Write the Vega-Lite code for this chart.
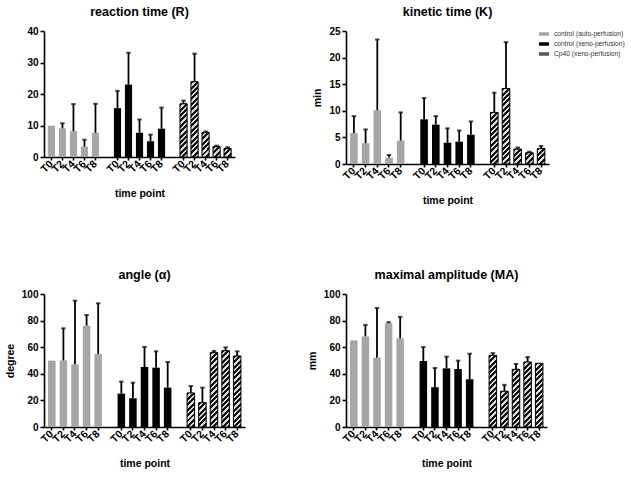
{
 "$schema": "https://vega.github.io/schema/vega-lite/v6.json",
 "padding": {"left": 5, "top": 5, "right": 5, "bottom": 5},
 "params": [{"name": "stripes", "value": [
  {"offset": 0, "color": "#111"}, {"offset": 0.034375, "color": "#111"}, {"offset": 0.034375, "color": "#dcdcdc"}, {"offset": 0.0625, "color": "#dcdcdc"},
  {"offset": 0.0625, "color": "#111"}, {"offset": 0.096875, "color": "#111"}, {"offset": 0.096875, "color": "#dcdcdc"}, {"offset": 0.125, "color": "#dcdcdc"},
  {"offset": 0.125, "color": "#111"}, {"offset": 0.159375, "color": "#111"}, {"offset": 0.159375, "color": "#dcdcdc"}, {"offset": 0.1875, "color": "#dcdcdc"},
  {"offset": 0.1875, "color": "#111"}, {"offset": 0.221875, "color": "#111"}, {"offset": 0.221875, "color": "#dcdcdc"}, {"offset": 0.25, "color": "#dcdcdc"},
  {"offset": 0.25, "color": "#111"}, {"offset": 0.284375, "color": "#111"}, {"offset": 0.284375, "color": "#dcdcdc"}, {"offset": 0.3125, "color": "#dcdcdc"},
  {"offset": 0.3125, "color": "#111"}, {"offset": 0.346875, "color": "#111"}, {"offset": 0.346875, "color": "#dcdcdc"}, {"offset": 0.375, "color": "#dcdcdc"},
  {"offset": 0.375, "color": "#111"}, {"offset": 0.409375, "color": "#111"}, {"offset": 0.409375, "color": "#dcdcdc"}, {"offset": 0.4375, "color": "#dcdcdc"},
  {"offset": 0.4375, "color": "#111"}, {"offset": 0.471875, "color": "#111"}, {"offset": 0.471875, "color": "#dcdcdc"}, {"offset": 0.5, "color": "#dcdcdc"},
  {"offset": 0.5, "color": "#111"}, {"offset": 0.534375, "color": "#111"}, {"offset": 0.534375, "color": "#dcdcdc"}, {"offset": 0.5625, "color": "#dcdcdc"},
  {"offset": 0.5625, "color": "#111"}, {"offset": 0.596875, "color": "#111"}, {"offset": 0.596875, "color": "#dcdcdc"}, {"offset": 0.625, "color": "#dcdcdc"},
  {"offset": 0.625, "color": "#111"}, {"offset": 0.659375, "color": "#111"}, {"offset": 0.659375, "color": "#dcdcdc"}, {"offset": 0.6875, "color": "#dcdcdc"},
  {"offset": 0.6875, "color": "#111"}, {"offset": 0.721875, "color": "#111"}, {"offset": 0.721875, "color": "#dcdcdc"}, {"offset": 0.75, "color": "#dcdcdc"},
  {"offset": 0.75, "color": "#111"}, {"offset": 0.784375, "color": "#111"}, {"offset": 0.784375, "color": "#dcdcdc"}, {"offset": 0.8125, "color": "#dcdcdc"},
  {"offset": 0.8125, "color": "#111"}, {"offset": 0.846875, "color": "#111"}, {"offset": 0.846875, "color": "#dcdcdc"}, {"offset": 0.875, "color": "#dcdcdc"},
  {"offset": 0.875, "color": "#111"}, {"offset": 0.909375, "color": "#111"}, {"offset": 0.909375, "color": "#dcdcdc"}, {"offset": 0.9375, "color": "#dcdcdc"},
  {"offset": 0.9375, "color": "#111"}, {"offset": 0.971875, "color": "#111"}, {"offset": 0.971875, "color": "#dcdcdc"}, {"offset": 1, "color": "#dcdcdc"}
 ]},
 {"name": "lstripes", "value": [
  {"offset": 0, "color": "#111"}, {"offset": 0.2, "color": "#111"}, {"offset": 0.2, "color": "#eee"}, {"offset": 0.333, "color": "#eee"},
  {"offset": 0.333, "color": "#111"}, {"offset": 0.533, "color": "#111"}, {"offset": 0.533, "color": "#eee"}, {"offset": 0.667, "color": "#eee"},
  {"offset": 0.667, "color": "#111"}, {"offset": 0.867, "color": "#111"}, {"offset": 0.867, "color": "#eee"}, {"offset": 1, "color": "#eee"}
 ]}],
 "datasets": {"d": [
  {"p": "R", "g": "control (auto-perfusion)", "k": "aT0", "m": 9.9, "hi": null},
  {"p": "R", "g": "control (auto-perfusion)", "k": "aT2", "m": 9.1, "hi": 10.7},
  {"p": "R", "g": "control (auto-perfusion)", "k": "aT4", "m": 8.2, "hi": 16.8},
  {"p": "R", "g": "control (auto-perfusion)", "k": "aT6", "m": 3.3, "hi": 5.5},
  {"p": "R", "g": "control (auto-perfusion)", "k": "aT8", "m": 7.7, "hi": 16.9},
  {"p": "R", "g": "control (xeno-perfusion)", "k": "xT0", "m": 15.5, "hi": 21.0},
  {"p": "R", "g": "control (xeno-perfusion)", "k": "xT2", "m": 23.0, "hi": 33.1},
  {"p": "R", "g": "control (xeno-perfusion)", "k": "xT4", "m": 7.7, "hi": 11.9},
  {"p": "R", "g": "control (xeno-perfusion)", "k": "xT6", "m": 5.0, "hi": 7.1},
  {"p": "R", "g": "control (xeno-perfusion)", "k": "xT8", "m": 9.0, "hi": 15.7},
  {"p": "R", "g": "Cp40 (xeno-perfusion)", "k": "cT0", "m": 16.9, "hi": 17.9},
  {"p": "R", "g": "Cp40 (xeno-perfusion)", "k": "cT2", "m": 23.9, "hi": 32.8},
  {"p": "R", "g": "Cp40 (xeno-perfusion)", "k": "cT4", "m": 7.8, "hi": 8.1},
  {"p": "R", "g": "Cp40 (xeno-perfusion)", "k": "cT6", "m": 3.3, "hi": 3.6},
  {"p": "R", "g": "Cp40 (xeno-perfusion)", "k": "cT8", "m": 2.7, "hi": 3.1},
  {"p": "K", "g": "control (auto-perfusion)", "k": "aT0", "m": 5.8, "hi": 9.0},
  {"p": "K", "g": "control (auto-perfusion)", "k": "aT2", "m": 3.9, "hi": 6.5},
  {"p": "K", "g": "control (auto-perfusion)", "k": "aT4", "m": 10.1, "hi": 23.4},
  {"p": "K", "g": "control (auto-perfusion)", "k": "aT6", "m": 1.2, "hi": 1.7},
  {"p": "K", "g": "control (auto-perfusion)", "k": "aT8", "m": 4.4, "hi": 9.7},
  {"p": "K", "g": "control (xeno-perfusion)", "k": "xT0", "m": 8.4, "hi": 12.4},
  {"p": "K", "g": "control (xeno-perfusion)", "k": "xT2", "m": 7.4, "hi": 9.0},
  {"p": "K", "g": "control (xeno-perfusion)", "k": "xT4", "m": 4.0, "hi": 6.7},
  {"p": "K", "g": "control (xeno-perfusion)", "k": "xT6", "m": 4.2, "hi": 6.3},
  {"p": "K", "g": "control (xeno-perfusion)", "k": "xT8", "m": 5.5, "hi": 8.0},
  {"p": "K", "g": "Cp40 (xeno-perfusion)", "k": "cT0", "m": 9.7, "hi": 13.4},
  {"p": "K", "g": "Cp40 (xeno-perfusion)", "k": "cT2", "m": 14.2, "hi": 22.9},
  {"p": "K", "g": "Cp40 (xeno-perfusion)", "k": "cT4", "m": 2.8, "hi": 3.1},
  {"p": "K", "g": "Cp40 (xeno-perfusion)", "k": "cT6", "m": 2.1, "hi": 2.3},
  {"p": "K", "g": "Cp40 (xeno-perfusion)", "k": "cT8", "m": 2.9, "hi": 3.4},
  {"p": "A", "g": "control (auto-perfusion)", "k": "aT0", "m": 49.9, "hi": null},
  {"p": "A", "g": "control (auto-perfusion)", "k": "aT2", "m": 50.1, "hi": 74.2},
  {"p": "A", "g": "control (auto-perfusion)", "k": "aT4", "m": 47.1, "hi": 95.0},
  {"p": "A", "g": "control (auto-perfusion)", "k": "aT6", "m": 76.2, "hi": 84.2},
  {"p": "A", "g": "control (auto-perfusion)", "k": "aT8", "m": 54.9, "hi": 93.0},
  {"p": "A", "g": "control (xeno-perfusion)", "k": "xT0", "m": 25.1, "hi": 34.1},
  {"p": "A", "g": "control (xeno-perfusion)", "k": "xT2", "m": 21.6, "hi": 33.3},
  {"p": "A", "g": "control (xeno-perfusion)", "k": "xT4", "m": 45.1, "hi": 60.2},
  {"p": "A", "g": "control (xeno-perfusion)", "k": "xT6", "m": 44.6, "hi": 56.9},
  {"p": "A", "g": "control (xeno-perfusion)", "k": "xT8", "m": 29.6, "hi": 48.9},
  {"p": "A", "g": "Cp40 (xeno-perfusion)", "k": "cT0", "m": 25.6, "hi": 30.8},
  {"p": "A", "g": "Cp40 (xeno-perfusion)", "k": "cT2", "m": 18.3, "hi": 29.6},
  {"p": "A", "g": "Cp40 (xeno-perfusion)", "k": "cT4", "m": 55.9, "hi": 57.2},
  {"p": "A", "g": "Cp40 (xeno-perfusion)", "k": "cT6", "m": 57.4, "hi": 59.9},
  {"p": "A", "g": "Cp40 (xeno-perfusion)", "k": "cT8", "m": 53.4, "hi": 56.9},
  {"p": "MA", "g": "control (auto-perfusion)", "k": "aT0", "m": 65.1, "hi": null},
  {"p": "MA", "g": "control (auto-perfusion)", "k": "aT2", "m": 68.1, "hi": 76.8},
  {"p": "MA", "g": "control (auto-perfusion)", "k": "aT4", "m": 52.1, "hi": 89.5},
  {"p": "MA", "g": "control (auto-perfusion)", "k": "aT6", "m": 78.1, "hi": 78.8},
  {"p": "MA", "g": "control (auto-perfusion)", "k": "aT8", "m": 66.6, "hi": 82.8},
  {"p": "MA", "g": "control (xeno-perfusion)", "k": "xT0", "m": 49.6, "hi": 60.1},
  {"p": "MA", "g": "control (xeno-perfusion)", "k": "xT2", "m": 29.9, "hi": 44.4},
  {"p": "MA", "g": "control (xeno-perfusion)", "k": "xT4", "m": 44.1, "hi": 52.9},
  {"p": "MA", "g": "control (xeno-perfusion)", "k": "xT6", "m": 43.6, "hi": 49.9},
  {"p": "MA", "g": "control (xeno-perfusion)", "k": "xT8", "m": 35.9, "hi": 55.1},
  {"p": "MA", "g": "Cp40 (xeno-perfusion)", "k": "cT0", "m": 53.9, "hi": 55.6},
  {"p": "MA", "g": "Cp40 (xeno-perfusion)", "k": "cT2", "m": 26.9, "hi": 31.7},
  {"p": "MA", "g": "Cp40 (xeno-perfusion)", "k": "cT4", "m": 43.4, "hi": 47.4},
  {"p": "MA", "g": "Cp40 (xeno-perfusion)", "k": "cT6", "m": 48.9, "hi": 52.6},
  {"p": "MA", "g": "Cp40 (xeno-perfusion)", "k": "cT8", "m": 47.9, "hi": null}
 ]},
 "columns": 2,
 "align": "each",
 "bounds": "flush",
 "spacing": {"row": 130, "column": 101},
 "resolve": {"scale": {"x": "independent", "y": "independent", "color": "independent"}, "legend": {"color": "independent"}},
 "concat": [
  {
   "width": 191, "height": 126,
   "title": "reaction time (R)",
   "data": {"name": "d"},
   "transform": [{"filter": "datum.p == 'R'"}],
   "encoding": {
    "x": {"field": "k", "type": "nominal", "title": "time point",
     "scale": {"domain": ["aT0","aT2","aT4","aT6","aT8","g1","xT0","xT2","xT4","xT6","xT8","g2","cT0","cT2","cT4","cT6","cT8"], "paddingInner": 0.35, "paddingOuter": 0.35},
     "axis": {"labelExpr": "substring(datum.value,0,1) == 'g' ? '' : substring(datum.value,1)", "labelAngle": -45, "labelAlign": "right", "labelBaseline": "middle", "tickOpacity": {"condition": {"test": "substring(datum.value,0,1) == 'g'", "value": 0}, "value": 1}}},
    "y": {"field": "m", "type": "quantitative", "title": null, "scale": {"domain": [0, 40], "nice": false}, "axis": {"values": [0, 10, 20, 30, 40]}}
   },
   "layer": [
    {"mark": {"type": "bar"}, "encoding": {"color": {"field": "g", "type": "nominal", "legend": null, "scale": {"domain": ["control (auto-perfusion)", "control (xeno-perfusion)", "Cp40 (xeno-perfusion)"], "range": ["#a6a6a6", "#000000", "#555555"]}}}},
    {"transform": [{"filter": "datum.g == 'Cp40 (xeno-perfusion)'"}], "mark": {"type": "bar", "stroke": "#000", "strokeWidth": 1, "fill": {"expr": "{gradient: 'linear', x1: 0, y1: 0, x2: 86.4*7.16/(51.3+pow(datum.m*3.15,2)), y2: 86.4*datum.m*3.15/(51.3+pow(datum.m*3.15,2)), stops: stripes}"}}},
    {"transform": [{"filter": "isValid(datum.hi)"}], "mark": {"type": "rule", "strokeWidth": 1.8, "color": "#000"}, "encoding": {"y2": {"field": "hi"}}},
    {"transform": [{"filter": "isValid(datum.hi)"}], "mark": {"type": "tick", "orient": "horizontal", "size": 4.5, "thickness": 2, "color": "#000"}, "encoding": {"y": {"field": "hi", "type": "quantitative"}}}
   ]
  },
  {
   "width": 203, "height": 133,
   "title": "kinetic time (K)",
   "data": {"name": "d"},
   "transform": [{"filter": "datum.p == 'K'"}],
   "encoding": {
    "x": {"field": "k", "type": "nominal", "title": "time point",
     "scale": {"domain": ["aT0","aT2","aT4","aT6","aT8","g1","xT0","xT2","xT4","xT6","xT8","g2","cT0","cT2","cT4","cT6","cT8"], "paddingInner": 0.35, "paddingOuter": 0.35},
     "axis": {"labelExpr": "substring(datum.value,0,1) == 'g' ? '' : substring(datum.value,1)", "labelAngle": -45, "labelAlign": "right", "labelBaseline": "middle", "tickOpacity": {"condition": {"test": "substring(datum.value,0,1) == 'g'", "value": 0}, "value": 1}}},
    "y": {"field": "m", "type": "quantitative", "title": "min", "scale": {"domain": [0, 25], "nice": false}, "axis": {"values": [0, 5, 10, 15, 20, 25]}}
   },
   "layer": [
    {"mark": {"type": "bar"}, "encoding": {"color": {"field": "g", "type": "nominal",
      "legend": {"orient": "none", "legendX": 193, "legendY": -2, "title": null, "padding": 0, "symbolType": "M-1,-0.35H1V0.35H-1Z", "symbolSize": 100, "symbolStrokeWidth": 0, "labelFontSize": 6.7, "labelFontWeight": "normal", "labelColor": "#333", "labelOffset": 5, "rowPadding": 1,
       "encode": {"symbols": {"update": {"fill": {"signal": "datum.label == 'Cp40 (xeno-perfusion)' ? {gradient: 'linear', x1: 0, y1: 0, x2: 1.2, y2: 0.42, stops: lstripes} : (datum.label == 'control (auto-perfusion)' ? '#a6a6a6' : '#000000')"}}}}},
      "scale": {"domain": ["control (auto-perfusion)", "control (xeno-perfusion)", "Cp40 (xeno-perfusion)"], "range": ["#a6a6a6", "#000000", "#555555"]}}}},
    {"transform": [{"filter": "datum.g == 'Cp40 (xeno-perfusion)'"}], "mark": {"type": "bar", "stroke": "#000", "strokeWidth": 1, "fill": {"expr": "{gradient: 'linear', x1: 0, y1: 0, x2: 86.4*7.6/(57.8+pow(datum.m*5.32,2)), y2: 86.4*datum.m*5.32/(57.8+pow(datum.m*5.32,2)), stops: stripes}"}}},
    {"transform": [{"filter": "isValid(datum.hi)"}], "mark": {"type": "rule", "strokeWidth": 1.8, "color": "#000"}, "encoding": {"y2": {"field": "hi"}}},
    {"transform": [{"filter": "isValid(datum.hi)"}], "mark": {"type": "tick", "orient": "horizontal", "size": 4.5, "thickness": 2, "color": "#000"}, "encoding": {"y": {"field": "hi", "type": "quantitative"}}}
   ]
  },
  {
   "width": 201, "height": 133,
   "title": "angle (α)",
   "data": {"name": "d"},
   "transform": [{"filter": "datum.p == 'A'"}],
   "encoding": {
    "x": {"field": "k", "type": "nominal", "title": "time point",
     "scale": {"domain": ["aT0","aT2","aT4","aT6","aT8","g1","xT0","xT2","xT4","xT6","xT8","g2","cT0","cT2","cT4","cT6","cT8"], "paddingInner": 0.35, "paddingOuter": 0.35},
     "axis": {"labelExpr": "substring(datum.value,0,1) == 'g' ? '' : substring(datum.value,1)", "labelAngle": -45, "labelAlign": "right", "labelBaseline": "middle", "tickOpacity": {"condition": {"test": "substring(datum.value,0,1) == 'g'", "value": 0}, "value": 1}}},
    "y": {"field": "m", "type": "quantitative", "title": "degree", "scale": {"domain": [0, 100], "nice": false}, "axis": {"values": [0, 20, 40, 60, 80, 100]}}
   },
   "layer": [
    {"mark": {"type": "bar"}, "encoding": {"color": {"field": "g", "type": "nominal", "legend": null, "scale": {"domain": ["control (auto-perfusion)", "control (xeno-perfusion)", "Cp40 (xeno-perfusion)"], "range": ["#a6a6a6", "#000000", "#555555"]}}}},
    {"transform": [{"filter": "datum.g == 'Cp40 (xeno-perfusion)'"}], "mark": {"type": "bar", "stroke": "#000", "strokeWidth": 1, "fill": {"expr": "{gradient: 'linear', x1: 0, y1: 0, x2: 86.4*7.53/(56.7+pow(datum.m*1.33,2)), y2: 86.4*datum.m*1.33/(56.7+pow(datum.m*1.33,2)), stops: stripes}"}}},
    {"transform": [{"filter": "isValid(datum.hi)"}], "mark": {"type": "rule", "strokeWidth": 1.8, "color": "#000"}, "encoding": {"y2": {"field": "hi"}}},
    {"transform": [{"filter": "isValid(datum.hi)"}], "mark": {"type": "tick", "orient": "horizontal", "size": 4.5, "thickness": 2, "color": "#000"}, "encoding": {"y": {"field": "hi", "type": "quantitative"}}}
   ]
  },
  {
   "width": 201, "height": 133,
   "title": "maximal amplitude (MA)",
   "data": {"name": "d"},
   "transform": [{"filter": "datum.p == 'MA'"}],
   "encoding": {
    "x": {"field": "k", "type": "nominal", "title": "time point",
     "scale": {"domain": ["aT0","aT2","aT4","aT6","aT8","g1","xT0","xT2","xT4","xT6","xT8","g2","cT0","cT2","cT4","cT6","cT8"], "paddingInner": 0.35, "paddingOuter": 0.35},
     "axis": {"labelExpr": "substring(datum.value,0,1) == 'g' ? '' : substring(datum.value,1)", "labelAngle": -45, "labelAlign": "right", "labelBaseline": "middle", "tickOpacity": {"condition": {"test": "substring(datum.value,0,1) == 'g'", "value": 0}, "value": 1}}},
    "y": {"field": "m", "type": "quantitative", "title": "mm", "scale": {"domain": [0, 100], "nice": false}, "axis": {"values": [0, 20, 40, 60, 80, 100]}}
   },
   "layer": [
    {"mark": {"type": "bar"}, "encoding": {"color": {"field": "g", "type": "nominal", "legend": null, "scale": {"domain": ["control (auto-perfusion)", "control (xeno-perfusion)", "Cp40 (xeno-perfusion)"], "range": ["#a6a6a6", "#000000", "#555555"]}}}},
    {"transform": [{"filter": "datum.g == 'Cp40 (xeno-perfusion)'"}], "mark": {"type": "bar", "stroke": "#000", "strokeWidth": 1, "fill": {"expr": "{gradient: 'linear', x1: 0, y1: 0, x2: 86.4*7.53/(56.7+pow(datum.m*1.33,2)), y2: 86.4*datum.m*1.33/(56.7+pow(datum.m*1.33,2)), stops: stripes}"}}},
    {"transform": [{"filter": "isValid(datum.hi)"}], "mark": {"type": "rule", "strokeWidth": 1.8, "color": "#000"}, "encoding": {"y2": {"field": "hi"}}},
    {"transform": [{"filter": "isValid(datum.hi)"}], "mark": {"type": "tick", "orient": "horizontal", "size": 4.5, "thickness": 2, "color": "#000"}, "encoding": {"y": {"field": "hi", "type": "quantitative"}}}
   ]
  }
 ],
 "config": {
  "view": {"stroke": null},
  "font": "Liberation Sans",
  "title": {"font": "Liberation Sans", "fontSize": 12.5, "fontWeight": "bold", "color": "#000", "offset": 8},
  "axis": {"domainColor": "#000", "domainWidth": 1.6, "tickColor": "#000", "tickWidth": 1.6, "tickSize": 4, "labelColor": "#000", "labelFont": "Liberation Sans", "labelFontWeight": "bold", "labelFontSize": 10, "titleFont": "Liberation Sans", "titleFontWeight": "bold", "titleFontSize": 10.5, "titleColor": "#000", "grid": false, "labelPadding": 2},
  "axisX": {"tickSize": 3, "labelFontSize": 10.5, "titlePadding": 14},
  "axisY": {"titlePadding": 6},
  "legend": {"labelFont": "Liberation Sans"}
 }
}
